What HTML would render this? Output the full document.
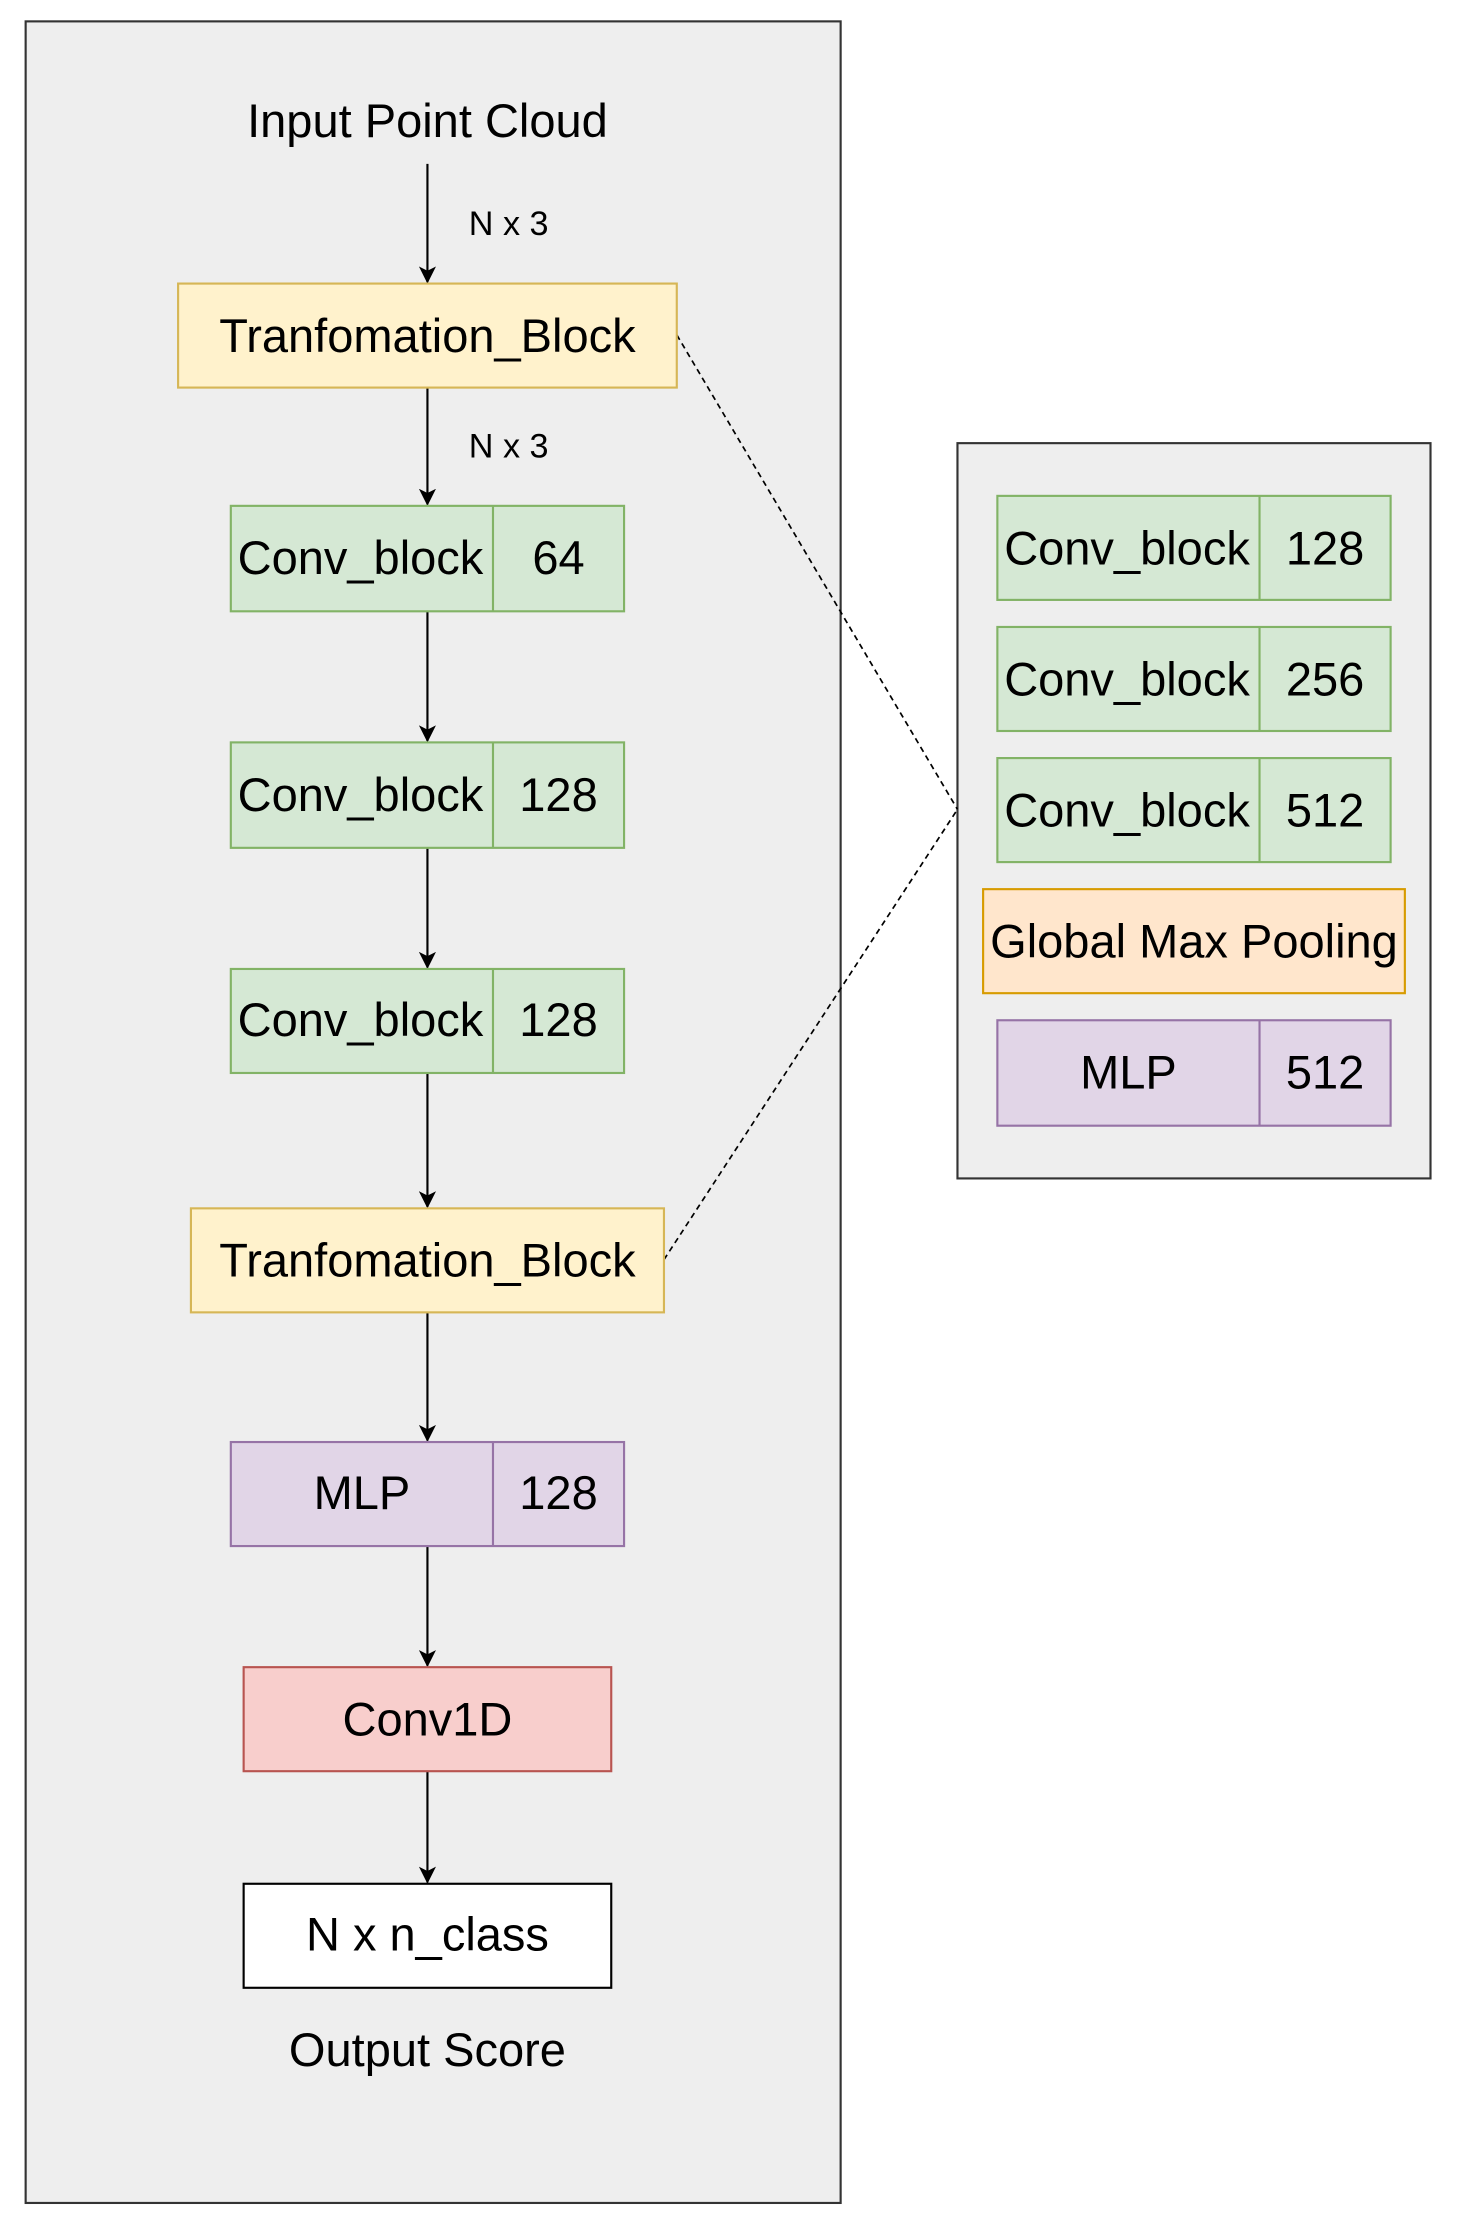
<!DOCTYPE html>
<html><head><meta charset="utf-8"><style>html,body{margin:0;padding:0;background:#fff}svg{display:block}</style></head>
<body>
<svg width="1459" height="2240" viewBox="0 0 1024 1572" preserveAspectRatio="none" xmlns="http://www.w3.org/2000/svg" font-family="Liberation Sans, Arial, sans-serif">
<defs><marker id="a" markerWidth="12" markerHeight="12" refX="11" refY="6" orient="auto" markerUnits="userSpaceOnUse"><path d="M0,0 L12,6 L0,12 L3,6 Z" fill="#000"/></marker></defs>
<rect x="18" y="15" width="572" height="1531" fill="#eeeeee" stroke="#333" stroke-width="1.5"/>
<rect x="672" y="311" width="332" height="516" fill="#eeeeee" stroke="#333" stroke-width="1.5"/>
<g stroke="#000" stroke-width="1.5" marker-end="url(#a)">
<line x1="300" y1="115" x2="300" y2="198"/>
<line x1="300" y1="272" x2="300" y2="354"/>
<line x1="300" y1="429" x2="300" y2="520"/>
<line x1="300" y1="595" x2="300" y2="679"/>
<line x1="300" y1="753" x2="300" y2="847"/>
<line x1="300" y1="921" x2="300" y2="1011"/>
<line x1="300" y1="1085" x2="300" y2="1169"/>
<line x1="300" y1="1243" x2="300" y2="1321"/>
</g>
<g stroke="#000" stroke-width="1.2" stroke-dasharray="4,3" fill="none">
<line x1="475" y1="235" x2="672" y2="568"/>
<line x1="466" y1="884" x2="672" y2="568"/>
</g>
<g font-size="24" fill="#000"><text x="329" y="165">N x 3</text><text x="329" y="321">N x 3</text></g>
<g font-size="33" text-anchor="middle" fill="#000">
<text x="300" y="96">Input Point Cloud</text>
<rect x="125" y="199" width="350" height="73" fill="#fff2cc" stroke="#d6b656" stroke-width="1.5"/>
<text x="300" y="247">Tranfomation_Block</text>
<g fill="#d5e8d4" stroke="#82b366" stroke-width="1.5">
<rect x="162" y="355" width="276" height="74"/><line x1="346" y1="355" x2="346" y2="429"/>
<rect x="162" y="521" width="276" height="74"/><line x1="346" y1="521" x2="346" y2="595"/>
<rect x="162" y="680" width="276" height="73"/><line x1="346" y1="680" x2="346" y2="753"/>
<rect x="700" y="348" width="276" height="73"/><line x1="884" y1="348" x2="884" y2="421"/>
<rect x="700" y="440" width="276" height="73"/><line x1="884" y1="440" x2="884" y2="513"/>
<rect x="700" y="532" width="276" height="73"/><line x1="884" y1="532" x2="884" y2="605"/>
</g>
<text x="253" y="403">Conv_block</text><text x="392" y="403">64</text>
<text x="253" y="569">Conv_block</text><text x="392" y="569">128</text>
<text x="253" y="727">Conv_block</text><text x="392" y="727">128</text>
<text x="791" y="396">Conv_block</text><text x="930" y="396">128</text>
<text x="791" y="488">Conv_block</text><text x="930" y="488">256</text>
<text x="791" y="580">Conv_block</text><text x="930" y="580">512</text>
<rect x="134" y="848" width="332" height="73" fill="#fff2cc" stroke="#d6b656" stroke-width="1.5"/>
<text x="300" y="896">Tranfomation_Block</text>
<rect x="690" y="624" width="296" height="73" fill="#ffe6cc" stroke="#d79b00" stroke-width="1.5"/>
<text x="838" y="672">Global Max Pooling</text>
<g fill="#e1d5e7" stroke="#9673a6" stroke-width="1.5">
<rect x="162" y="1012" width="276" height="73"/><line x1="346" y1="1012" x2="346" y2="1085"/>
<rect x="700" y="716" width="276" height="74"/><line x1="884" y1="716" x2="884" y2="790"/>
</g>
<text x="254" y="1059">MLP</text><text x="392" y="1059">128</text>
<text x="792" y="764">MLP</text><text x="930" y="764">512</text>
<rect x="171" y="1170" width="258" height="73" fill="#f8cecc" stroke="#b85450" stroke-width="1.5"/>
<text x="300" y="1218">Conv1D</text>
<rect x="171" y="1322" width="258" height="73" fill="#fff" stroke="#000" stroke-width="1.5"/>
<text x="300" y="1369">N x n_class</text>
<text x="300" y="1450">Output Score</text>
</g>
</svg>
</body></html>
